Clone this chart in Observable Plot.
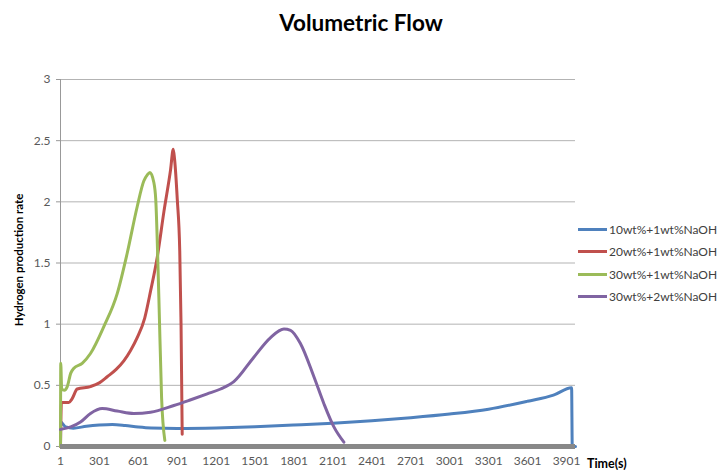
<!DOCTYPE html>
<html><head><meta charset="utf-8">
<script src="https://cdn.jsdelivr.net/npm/d3@7"></script>
<script src="https://cdn.jsdelivr.net/npm/@observablehq/plot@0.6"></script>
<style>
body{margin:0;background:#fff;font-family:Lato,"Open Sans",sans-serif;}
#wrap{position:relative;width:721px;height:470px;}
#title{position:absolute;left:0;width:722px;top:9px;text-align:center;font-weight:bold;font-size:22.5px;color:#000;}
#ylab{position:absolute;left:18px;top:260px;transform:translate(-50%,-50%) rotate(-90deg);font-weight:bold;font-size:11.5px;white-space:nowrap;color:#000;}
#xlab{position:absolute;left:587px;top:456px;font-weight:bold;font-size:12.5px;color:#000;}
#legend{position:absolute;left:578px;top:218px;font-size:12px;color:#404040;}
.li{display:flex;align-items:center;height:22.5px;}
.sw{width:29px;height:3px;margin-right:2px;}
</style></head>
<body><div id="wrap"><div id="title">Volumetric Flow</div><div id="ylab">Hydrogen production rate</div><div id="xlab">Time(s)</div><div id="legend"></div></div>
<script>
const seriesNames = ["10wt%+1wt%NaOH","20wt%+1wt%NaOH","30wt%+1wt%NaOH","30wt%+2wt%NaOH"];
const seriesColors = ["#4F81BD","#C0504D","#9BBB59","#8064A2"];

const blueT = [1, 3, 40, 100, 200, 300, 400, 500, 600, 700, 900, 1200, 1500, 1800, 2100, 2400, 2700, 3000, 3300, 3600, 3800, 3940, 3945, 3970];
const blueV = [0, 0.2, 0.16, 0.15, 0.165, 0.175, 0.18, 0.172, 0.16, 0.152, 0.148, 0.152, 0.162, 0.175, 0.19, 0.21, 0.235, 0.265, 0.305, 0.37, 0.42, 0.48, 0, 0];

const redT = [1, 8, 14, 65, 90, 130, 232, 300, 361, 430, 489, 541, 592, 650, 695, 747, 798, 849, 870, 880, 901, 920, 930, 939];
const redV = [0, 0.36, 0.36, 0.36, 0.39, 0.47, 0.49, 0.52, 0.57, 0.63, 0.70, 0.785, 0.89, 1.05, 1.27, 1.55, 1.92, 2.26, 2.43, 2.35, 2.02, 1.6, 1.0, 0.10];

const greenT = [1, 3, 10, 30, 53, 80, 104, 168, 232, 335, 438, 515, 592, 643, 670, 690, 720, 735, 759, 780, 805];
const greenV = [0, 0.68, 0.47, 0.46, 0.49, 0.6, 0.64, 0.68, 0.76, 0.98, 1.25, 1.58, 1.96, 2.17, 2.22, 2.24, 2.16, 2.02, 1.22, 0.40, 0.05];

const purpleT = [1, 80, 155, 232, 322, 438, 566, 695, 875, 1000, 1132, 1235, 1337, 1491, 1620, 1723, 1774, 1851, 1954, 2031, 2108, 2185];
const purpleV = [0.14, 0.16, 0.2, 0.27, 0.31, 0.29, 0.27, 0.28, 0.335, 0.38, 0.43, 0.47, 0.53, 0.73, 0.89, 0.96, 0.95, 0.84, 0.57, 0.35, 0.16, 0.035];

const xTicks = d3.range(1, 3902, 300);
const yTicks = [0, 0.5, 1, 1.5, 2, 2.5, 3];

const allT = [blueT, redT, greenT, purpleT];
const allV = [blueV, redV, greenV, purpleV];
const data = [];
allT.forEach((ts, s) => ts.forEach((t, i) => data.push({series: seriesNames[s], t, v: allV[s][i]})));

const chart = Plot.plot({
  width: 721, height: 470,
  marginLeft: 60, marginRight: 146, marginTop: 79, marginBottom: 24,
  style: {fontFamily: "Lato, 'Open Sans', sans-serif", fontSize: "12px", color: "#595959", background: "white"},
  x: {domain: [1, 3970]},
  y: {domain: [0, 3]},
  color: {domain: seriesNames, range: seriesColors},
  marks: [
    Plot.gridY(yTicks, {stroke: "#b3b3b3", strokeOpacity: 1, strokeWidth: 1}),
    Plot.axisY(yTicks, {tickSize: 4, tickPadding: 6, stroke: "#999", label: null, tickFormat: d => String(d), fontSize: 12}),
    Plot.axisX(xTicks, {tickSize: 0, tickPadding: 10, label: null, tickFormat: d => String(d), fontSize: 12}),
    Plot.ruleX([1], {stroke: "#999", strokeWidth: 1}),
    Plot.line(data, {x: "t", y: "v", z: "series", stroke: "series", strokeWidth: 3, curve: "monotone-x"}),
    Plot.ruleY([0], {stroke: "#888", strokeWidth: 5})
  ]
});
const wrap = document.getElementById("wrap");
wrap.insertBefore(chart, wrap.firstChild);
chart.style.position = "absolute"; chart.style.left = "0"; chart.style.top = "0";

const leg = document.getElementById("legend");
seriesNames.forEach((n, i) => {
  const d = document.createElement("div"); d.className = "li";
  d.innerHTML = `<span class="sw" style="background:${seriesColors[i]}"></span><span>${n}</span>`;
  leg.appendChild(d);
});
</script></body></html>
